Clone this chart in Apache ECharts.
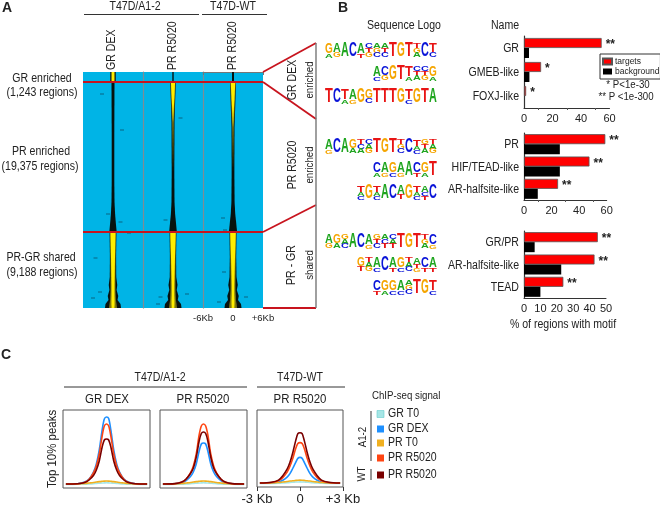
<!DOCTYPE html>
<html><head><meta charset="utf-8"><style>html,body{margin:0;padding:0;background:#fff}#c{width:660px;height:506px}</style>
<script src="https://cdn.jsdelivr.net/npm/echarts@6/dist/echarts.min.js"></script></head>
<body><div id="c"></div><script>
const FONT='"Liberation Sans",Arial,sans-serif';
const SQ=.88;
// Panel A: rows [row, black half width, olive half width, yellow half width] in kb
const heatGR=[[0,.55,.42,.22],[10,.55,.42,.22],[10.1,.3,0,0],[60,.26,0,0],[110,.26,0,0],[130,.3,0,0],[142,.42,0,0],[150,.55,0,0],[159,.72,0,0],[160,.68,.6,.5],[185,.62,.52,.4],[205,.65,.48,.33],[213,.85,.5,.3],[218,.72,.5,.3],[224,1.05,.55,.3],[228,.9,.58,.32],[232,1.5,.7,.32],[236,1.6,.8,.28]];
const heatPR=[[0,.14,0,0],[10,.14,0,0],[10.1,.56,.5,.42],[30,.42,.34,.22],[50,.3,.16,0],[100,.26,0,0],[130,.3,0,0],[142,.42,0,0],[150,.58,0,0],[159,.75,0,0],[160,.68,.62,.54],[185,.62,.52,.4],[205,.65,.48,.3],[213,.9,.5,.26],[218,.74,.5,.26],[224,1.1,.55,.26],[228,.95,.58,.3],[232,1.6,.7,.3],[236,1.7,.8,.26]];
const heatWT=[[0,.2,0,0],[10,.2,0,0],[10.1,.6,.54,.46],[35,.44,.34,.2],[55,.3,.16,0],[100,.27,0,0],[130,.32,0,0],[142,.45,0,0],[150,.62,0,0],[159,.8,0,0],[160,.7,.64,.56],[185,.64,.56,.4],[205,.7,.5,.3],[213,.95,.5,.26],[218,.76,.5,.26],[224,1.15,.58,.26],[228,1,.58,.3],[232,1.6,.72,.3],[236,1.7,.8,.26]];
const speckGR=[[-2.2,22],[1.8,58],[-1,142],[1.5,150],[2,160],[3.2,161],[-3.5,186],[-4,226],[-2.6,220]];
const speckPR=[[1.5,46],[-1.5,148],[2.2,160],[-2.5,225],[-3,232],[2.8,222]];
const speckWT=[[-2,146],[-2.4,160],[-1.6,158],[2.6,225],[-2.8,230],[-1.8,200]];
// Panel B: motif stacks, top to bottom, repeated letters weigh more
const motifsA=[['GGGA','AAG','A','C','AAAT','CTG','AGC','ATC','T','G','T','TGA','C','TTC'],
 ['AAAC','CCG','G','T','TTTA','CTA','CTG','GGGA'],
 ['T','C','TTTA','AAAG','G','GGC','T','T','T','G','TTTC','G','T','A']];
const motifsB=[['AAAG','C','A','GGA','TCA','CAG','T','G','T','TGC','C','TTAC','GTA','TAG'],
 ['CCCA','AAAG','GGGC','AAAG','A','CCCT','GGGA','T'],
 ['TTAC','G','TTAC','A','C','AAT','G','TTAC','AACT','C']];
const motifsC=[['AAG','GGA','GAC','A','C','AAAG','GTC','ACT','CAT','T','G','T','TGA','CCCG'],
 ['GGT','TAG','AAAC','C','AAAT','GGGC','TAC','AATG','CCCT','AAAT'],
 ['CCCT','GGGA','GGGC','AAAC','AGC','T','G','TTTC']];
// Bars
const catsA=['GR','GMEB-like','FOXJ-like'], targetsA=[54.5,12,1.5], bgA=[3.5,3.8,0], starsA=['**','*','*'];
const catsB=['PR','HIF/TEAD-like','AR-halfsite-like'], targetsB=[59,47.5,24.7], bgB=[26,26,10], starsB=['**','**','**'];
const catsC=['GR/PR','AR-halfsite-like','TEAD'], targetsC=[45,43,24], bgC=[6.5,22.7,10], starsC=['**','**','**'];
// Panel C profiles
const kb=[-2.8,-2,-1.5,-1.2,-.9,-.7,-.5,-.3,-.15,0,.15,.3,.5,.7,.9,1.2,1.5,2,2.8];
const grT0=[3.6,3.7,3.8,4,4.3,4.6,4.8,5,5.1,5.2,5.1,5,4.8,4.6,4.3,4,3.8,3.7,3.6];
const prT0=[4,4.1,4.5,5,5.5,6,6.4,6.7,6.9,7,6.9,6.7,6.4,6,5.5,5,4.5,4.1,4];
const dex1=[4,4.3,6,9,16,24,38,58,69,71,69.5,58,38,24,16,9,6,4.3,4];
const pr1=[4,4.3,5.8,8.8,15,22,34,52,62,64,62,52,34,22,15,8.8,5.8,4.3,4];
const wt1=[4,4.3,5.5,8,12.5,18,27,41,48,49,48,41,27,18,12.5,8,5.5,4.3,4];
const dex2=[4,4.2,5.3,7.5,11.5,16,24,37,44,45,44,37,24,16,11.5,7.5,5.3,4.2,4];
const pr2=[4,4.3,5.8,8.8,15,22,34,53,62,64,62,53,34,22,15,8.8,5.8,4.3,4];
const wt2=[4,4.4,6,9,14.5,20,31,47,54.5,56,54.5,47,31,20,14.5,9,6,4.4,4];
const dex3=[4,4.2,5,6.8,10,13.5,19,25,29,30,29,25,19,13.5,10,6.8,5,4.2,4];
const pr3=[4,4.5,6.3,9.5,15,21,29,39,44,45,44,39,29,21,15,9.5,6.3,4.5,4];
const wt3=[4,4.8,7,11.5,18,25,35,47,54,55,54,47,35,25,18,11.5,7,4.8,4];
const cTicks={'-3':'-3 Kb','0':'0','3':'+3 Kb'};

const grid=[],xAxis=[],yAxis=[],series=[];
function addGrid(g,x,y){const i=grid.length;grid.push(g);xAxis.push({...x,gridIndex:i});yAxis.push({...y,gridIndex:i});return i;}
// ---------- Heatmaps
const HEAT='#00b4e6';
function heat(left,stations,specks,showAxis,sep){
 const i=addGrid({left,top:72,width:60,height:236,show:true,backgroundColor:HEAT,borderWidth:0},
  {type:'value',min:-6,max:6,interval:6,axisLine:{show:showAxis,lineStyle:{color:'#777',width:1}},splitLine:{show:false},
   axisTick:{show:showAxis,length:3,lineStyle:{color:'#777'}},
   axisLabel:{show:showAxis,fontFamily:FONT,fontSize:9.5,color:'#222',margin:5,hideOverlap:false,formatter:v=>v==0?'0':(v<0?'-6Kb':'+6Kb')}},
  {type:'value',min:0,max:236,inverse:true,axisLine:{show:sep,onZero:false,lineStyle:{color:'#7f8c94',width:1.2}},axisTick:{show:false},axisLabel:{show:false},splitLine:{show:false}});
 series.push({type:'custom',xAxisIndex:i,yAxisIndex:i,clip:true,silent:true,data:stations,encode:{x:1,y:0},
  renderItem(p,api){
   const n=p.dataIndexInside+1; if(n>=stations.length) return null;
   const quad=(k,fill)=>{const a=api.value(k),b=api.value(k,n),r0=api.value(0),r1=api.value(0,n);
    if(a<=0&&b<=0) return null;
    return {type:'polygon',shape:{points:[api.coord([-a,r0]),api.coord([a,r0]),api.coord([b,r1]),api.coord([-b,r1])]},style:{fill,stroke:null}};};
   return {type:'group',children:[quad(1,'#07120f'),quad(2,'#7d7512'),quad(3,'#ffee00')].filter(Boolean)};
  }});
 series.push({type:'scatter',xAxisIndex:i,yAxisIndex:i,silent:true,symbol:'rect',symbolSize:[4,1.2],itemStyle:{color:'#0b5570',opacity:.7},data:specks});
}
heat(83,heatGR,speckGR,false,false);heat(143,heatPR,speckPR,false,true);heat(203,heatWT,speckWT,true,true);
// ---------- Logos
const LET='ACGT',LCOL=['#1fa51f','#0a14d8','#f5a500','#e81414'],LW=[14.4,14.4,15.6,12.2];
function logo(top,motifs){
 const rows=[];
 motifs.forEach((m,r)=>m.forEach((st,k)=>{const x=14-m.length+k;
  st.split('').forEach((ch,j)=>{
   if(j>0&&st[j-1]===ch)return;
   let cnt=0;while(st[j+cnt]===ch)cnt++;
   rows.push([x+.5,r+.5,j/st.length,(j+cnt)/st.length,LET.indexOf(ch)]);});}));
 const i=addGrid({left:325,top,width:112,height:69,show:false},
  {type:'value',min:0,max:14,show:false},{type:'value',min:0,max:3,inverse:true,show:false});
 series.push({type:'custom',xAxisIndex:i,yAxisIndex:i,silent:true,clip:false,data:rows,encode:{x:0,y:1},
  renderItem(p,api){
   const c=api.coord([api.value(0),api.value(1)]),H=14,t=api.value(2),b=api.value(3),l=api.value(4);
   const h=(b-t)*H, cy=c[1]-H/2+(t+b)/2*H;
   return {type:'text',x:c[0],y:cy,scaleX:7.8/LW[l],scaleY:h/14.4,
    style:{text:LET[l],fontFamily:FONT,fontSize:20,fontWeight:'bold',fill:LCOL[l],textAlign:'center',textVerticalAlign:'middle'}};
  }});
}
logo(39.5,motifsA);logo(135.5,motifsB);logo(230.5,motifsC);
// ---------- Bars
function bars(top,height,width,max,cats,t,b,stars,minor){
 const i=addGrid({left:524,top,width,height},
  {type:'value',min:0,max,interval:max==60?20:10,splitLine:{show:false},
   axisLine:{show:true,lineStyle:{color:'#333'}},axisTick:{length:3,lineStyle:{color:'#333'}},
   minorTick:{show:minor,splitNumber:2,length:2,lineStyle:{color:'#555'}},
   axisLabel:{fontFamily:FONT,fontSize:11,color:'#222',margin:5}},
  {type:'category',data:cats,inverse:true,axisLine:{show:true,lineStyle:{color:'#333',width:1.2}},axisTick:{show:false},
   axisLabel:{show:false}});
 const base={type:'bar',xAxisIndex:i,yAxisIndex:i,barWidth:10,barGap:0,silent:true};
 series.push({...base,name:'targets',data:t,itemStyle:{color:'#ff0000',borderColor:'#555',borderWidth:.8},
  label:{show:true,position:'right',distance:4,offset:[0,2],fontFamily:FONT,fontSize:12,fontWeight:'bold',color:'#222',formatter:p=>stars[p.dataIndex]}});
 series.push({...base,name:'background',data:b,itemStyle:{color:'#000'}});
 // category names, squeezed as in the reference
 series.push({type:'custom',xAxisIndex:i,yAxisIndex:i,silent:true,clip:false,data:cats.map((c,k)=>[0,k]),encode:{x:0,y:1},
  renderItem(p,api){const c=api.coord([0,api.value(1)]);
   return {type:'text',x:c[0]-5,y:c[1]+1,scaleX:SQ,style:{text:cats[p.dataIndex],fontFamily:FONT,fontSize:12,fill:'#222',textAlign:'right',textVerticalAlign:'middle'}};}});
}
bars(36,72,85.5,60,catsA,targetsA,bgA,starsA,true);
bars(133,67,82.7,60,catsB,targetsB,bgB,starsB,true);
bars(231,67,82,50,catsC,targetsC,bgC,starsC,false);
// ---------- Profiles
function prof(left,width,showAxis,sets){
 const i=addGrid({left,top:410,width,height:78,show:true,backgroundColor:'#fff',borderColor:'#555',borderWidth:1},
  {type:'value',min:-3,max:3,interval:3,splitLine:{show:false},axisLine:{show:false},axisTick:{show:showAxis,length:4,lineStyle:{color:'#333'}},
   axisLabel:{show:showAxis,fontFamily:FONT,fontSize:13,color:'#222',margin:6,hideOverlap:false,formatter:v=>cTicks[String(v)]}},
  {type:'value',min:0,max:78,show:false});
 sets.forEach(([d,col])=>series.push({type:'line',xAxisIndex:i,yAxisIndex:i,smooth:.3,showSymbol:false,silent:true,
  lineStyle:{color:col,width:1.6},data:d.map((v,k)=>[kb[k],v])}));
}
const C=['#a6e6e6','#1e90ff','#f0b020','#ff4512','#7a0000'];
prof(63,87,false,[[grT0,C[0]],[dex1,C[1]],[prT0,C[2]],[pr1,C[3]],[wt1,C[4]]]);
prof(160,87,false,[[grT0,C[0]],[dex2,C[1]],[prT0,C[2]],[pr2,C[3]],[wt2,C[4]]]);
prof(257,86,true,[[grT0,C[0]],[dex3,C[1]],[prT0,C[2]],[pr3,C[3]],[wt3,C[4]]]);
// ---------- Annotation
const g=[];
const T=(text,x,y,o={})=>g.push({type:'text',x,y,z:100,rotation:o.rot||0,scaleX:o.bold?1:SQ,style:{text,fontFamily:FONT,fontSize:o.size||12,fontWeight:o.bold?'bold':'normal',fill:o.fill||'#222',textAlign:o.align||'center',textVerticalAlign:'middle'}});
const L=(x1,y1,x2,y2,stroke,lineWidth)=>g.push({type:'line',z:100,shape:{x1,y1,x2,y2},style:{stroke,lineWidth}});
const UP=Math.PI/2;
T('A',7,8,{bold:true,size:14});T('B',343,8,{bold:true,size:14});T('C',6,355,{bold:true,size:14});
T('T47D/A1-2',135,7);T('T47D-WT',233,7);L(84,14.5,199,14.5,'#333',1);L(202,14.5,267,14.5,'#333',1);
T('GR DEX',112,70,{rot:UP,align:'left'});T('PR R5020',173,70,{rot:UP,align:'left'});T('PR R5020',233,70,{rot:UP,align:'left'});
T('GR enriched',42,79);T('(1,243 regions)',42,93);T('PR enriched',41,152);T('(19,375 regions)',40,167);T('PR-GR shared',41,258);T('(9,188 regions)',42,273);
const RED='#c8141e';
L(83,82,263,82,RED,1.8);L(83,232,263,232,RED,1.8);L(263,308,316,308,RED,1.8);
L(263,72,316,43,RED,1.8);L(263,82,316,119,RED,1.8);L(263,232,316,205,RED,1.8);L(316,43,316,308,'#777',1.4);
T('GR DEX',293,80,{rot:UP});T('enriched',310,80,{rot:UP,size:11});T('PR R5020',293,165,{rot:UP});T('enriched',310,165,{rot:UP,size:11});T('PR - GR',292,265,{rot:UP});T('shared',310,265,{rot:UP,size:11});
T('Sequence Logo',404,26);T('Name',505,26);T('% of regions with motif',563,325);
T('* P<1e-30',628,85,{size:11});T('** P <1e-300',626,97,{size:11});
T('T47D/A1-2',160,378);L(64,387,247,387,'#333',1);T('T47D-WT',300,378);L(257,387,345,387,'#333',1);
T('GR DEX',107,399,{size:13});T('PR R5020',203,399,{size:13});T('PR R5020',300,399,{size:13});
T('Top 10% peaks',52,449,{rot:UP,size:13});
T('ChIP-seq signal',372,396,{align:'left',size:11});
const legNames=['GR T0','GR DEX','PR T0','PR R5020','PR R5020'],legY=[414,429,443,458,475];
legNames.forEach((n,k)=>{g.push({type:'rect',z:100,shape:{x:377,y:legY[k]-3.5,width:7,height:7},style:{fill:C[k],stroke:k==0?'#6cc':null,lineWidth:.6}});T(n,388,legY[k],{align:'left'});});
L(371,411,371,461,'#333',1);L(371,469,371,480,'#333',1);
T('A1-2',363,437,{rot:UP,size:11});T('WT',362,474,{rot:UP,size:11});

const chart=echarts.init(document.getElementById('c'),null,{renderer:'canvas'});
chart.setOption({animation:false,backgroundColor:'#fff',tooltip:{show:false},grid,xAxis,yAxis,series,graphic:g,
 legend:{data:['targets','background'],orient:'vertical',left:600,top:54,padding:[3,1,3,2],itemGap:1,itemWidth:9,itemHeight:6,selectedMode:false,
  backgroundColor:'#fff',borderColor:'#333',borderWidth:1,icon:'rect',z:50,textStyle:{fontFamily:FONT,fontSize:8.5,color:'#222',padding:[0,0,0,-2]}}});
</script></body></html>
